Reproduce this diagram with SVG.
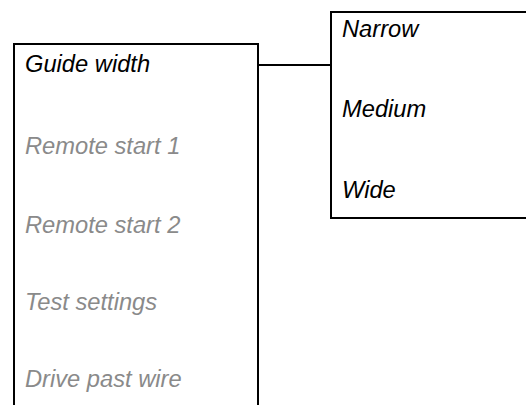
<svg xmlns="http://www.w3.org/2000/svg" width="526" height="405" viewBox="0 0 526 405">
<style>
.box{fill:#fff;stroke:#000;stroke-width:2}
.t{font-family:"Liberation Sans",Arial,sans-serif;font-style:italic;font-size:23.7px}
.on{fill:#000}
.off{fill:#8a8a8a}
.c{fill:none;stroke:#000;stroke-width:2}
</style>
<rect width="526" height="405" fill="#fff"/>
<g id="menu">
<rect class="box" x="14" y="44" width="244" height="380"/>
<text class="t on" x="25" y="72">Guide width</text>
<text class="t off" x="25" y="154">Remote start 1</text>
<text class="t off" x="25" y="233">Remote start 2</text>
<text class="t off" x="25" y="310">Test settings</text>
<text class="t off" x="25" y="387">Drive past wire</text>
</g>
<g id="submenu">
<rect class="box" x="331" y="12" width="210" height="206"/>
<text class="t on" x="342" y="37">Narrow</text>
<text class="t on" x="342" y="117">Medium</text>
<text class="t on" x="342" y="198">Wide</text>
</g>
<g id="connectors">
<line class="c" x1="258" y1="65" x2="331" y2="65"/>
</g>
</svg>
